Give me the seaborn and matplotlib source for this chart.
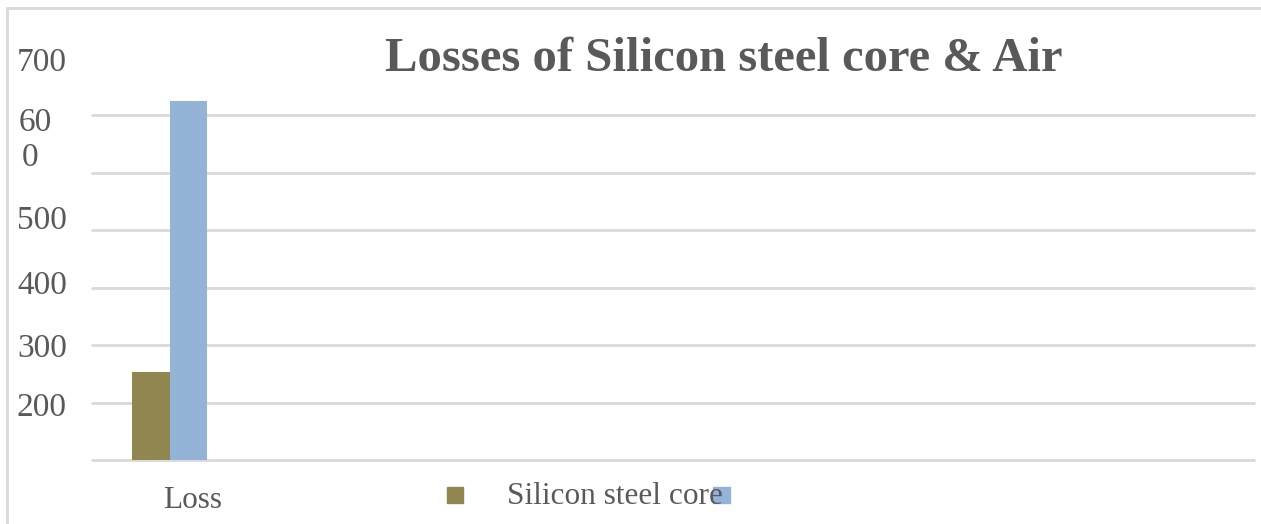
import numpy as np
import pandas as pd
import matplotlib
matplotlib.use("Agg")
import matplotlib.pyplot as plt
from matplotlib.patches import Rectangle
from matplotlib.lines import Line2D
import seaborn as sns

# ---- data ----
categories = ["Loss"]
series = ["Silicon steel core", "Air"]
silicon_values = [153]
air_values = [624]
grid_values = [0, 100, 200, 300, 400, 500, 600]
ytick_labels = ["700", "60\n0", "500", "400", "300", "200"]
title = "Losses of Silicon steel core & Air"

colors = {"Silicon steel core": "#908650", "Air": "#93B3D7"}
text_color = "#595959"
grid_color = "#D9D9D9"

df = pd.DataFrame({
    "category": categories * 2,
    "series": [series[0]] * len(categories) + [series[1]] * len(categories),
    "value": silicon_values + air_values,
})

sns.set_theme(style="white")
plt.rcParams["font.family"] = ["Liberation Serif", "DejaVu Serif"]

W, H = 1261, 524
fig = plt.figure(figsize=(W / 100, H / 100), dpi=100)

def fx(x):
    return x / W

def fy(y):
    return 1 - y / H

ax = fig.add_axes([fx(92), fy(460), fx(1254) - fx(92), (460 - 57.5) / H])
sns.barplot(data=df, x="category", y="value", hue="series", hue_order=series,
            palette=colors, saturation=1, width=0.8, legend=False, ax=ax,
            linewidth=0)

ax.set_ylim(0, 700)
ax.set_xlim(-0.832, 11.563)
ax.set_yticks([])
ax.set_xticks([])
ax.grid(False)
for g in grid_values:
    ax.axhline(g, color=grid_color, lw=2, zorder=0, clip_on=False)
for s in ax.spines.values():
    s.set_visible(False)
ax.set_xlabel("")
ax.set_ylabel("")
ax.set_facecolor("none")

# y tick labels (as rendered in the reference)
label_baselines = [71, 131, 229, 294, 357, 416]
label_x = [17, 19, 17, 17, 17, 17]
for lab, yb, xl in zip(ytick_labels, label_baselines, label_x):
    lines = lab.split("\n")
    for i, ln in enumerate(lines):
        xx = xl + (3 if i > 0 else 0)
        fig.text(fx(xx), fy(yb + 35 * i), ln, ha="left", va="baseline",
                 fontsize=24, color=text_color)

# category label
fig.text(fx(193), fy(508), categories[0], ha="center", va="baseline",
         fontsize=22.5, color=text_color)

# title
fig.text(fx(724), fy(71), title, ha="center", va="baseline", fontsize=35,
         fontweight="bold", color=text_color)

# legend (as rendered)
fig.patches.append(Rectangle((fx(447), fy(503)), fx(16), 16 / H,
                             transform=fig.transFigure, color=colors[series[0]]))
fig.text(fx(507), fy(504), series[0], ha="left", va="baseline",
         fontsize=22.5, color=text_color)
fig.patches.append(Rectangle((fx(713), fy(503)), fx(17), 16 / H,
                             transform=fig.transFigure, color=colors[series[1]]))

# chart border
fig.lines.append(Line2D([fx(7), 1], [fy(8), fy(8)], transform=fig.transFigure,
                        color=grid_color, lw=2))
fig.lines.append(Line2D([fx(7), fx(7)], [fy(8), 0], transform=fig.transFigure,
                        color=grid_color, lw=2))

fig.savefig("out.png", dpi=100, facecolor="white")
